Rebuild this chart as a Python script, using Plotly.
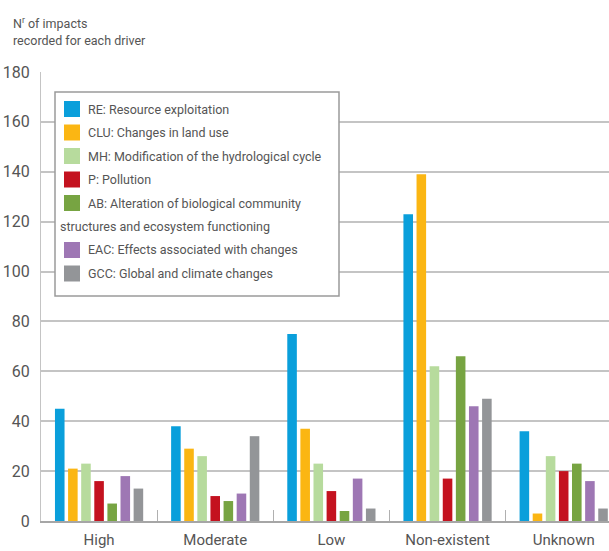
import plotly.graph_objects as go

categories = ["High", "Moderate", "Low", "Non-existent", "Unknown"]
drivers = ["RE: Resource exploitation",
           "CLU: Changes in land use",
           "MH: Modification of the hydrological cycle",
           "P: Pollution",
           "AB: Alteration of biological community<br>structures and ecosystem functioning",
           "EAC: Effects associated with changes",
           "GCC: Global and climate changes"]
colors = ["#0a9fdb", "#fbb613", "#b7db9d", "#c4121f", "#77a442", "#9e77b4", "#939598"]

RE = [45, 38, 75, 123, 36]
CLU = [21, 29, 37, 139, 3]
MH = [23, 26, 23, 62, 26]
P = [16, 10, 12, 17, 20]
AB = [7, 8, 4, 66, 23]
EAC = [18, 11, 17, 46, 16]
GCC = [13, 34, 5, 49, 5]
series = [RE, CLU, MH, P, AB, EAC, GCC]

y_ticks = [0, 20, 40, 60, 80, 100, 120, 140, 160, 180]

W, H = 609, 551
L, R, T, B = 41, 0, 72, 30
FONT = "Roboto, 'Liberation Sans', sans-serif"
TXT = "#555555"

def px(x):
    return (x - L) / (W - L - R)

def py(y):
    return (H - B - y) / (H - T - B)

fig = go.Figure()
for name, vals, col in zip(drivers, series, colors):
    fig.add_trace(go.Bar(x=categories, y=vals, name=name.replace("<br>", " "),
                         marker=dict(color=col, line=dict(width=0)),
                         showlegend=False))

# custom legend
shapes = [dict(type="rect", xref="paper", yref="paper",
               x0=px(55), x1=px(339), y0=py(296), y1=py(92),
               line=dict(color="#9a9a9a", width=1.5), fillcolor="white", layer="above")]
annotations = []
row_y = 109
for name, col in zip(drivers, colors):
    parts = name.split("<br>")
    shapes.append(dict(type="rect", xref="paper", yref="paper",
                       x0=px(64), x1=px(80), y0=py(row_y + 8), y1=py(row_y - 8),
                       line=dict(width=0), fillcolor=col, layer="above"))
    annotations.append(dict(text=parts[0], xref="paper", yref="paper",
                            x=px(86), y=py(row_y), xanchor="left", yanchor="middle",
                            showarrow=False, font=dict(size=12.5, color=TXT, family=FONT)))
    row_y += 23.5
    for extra in parts[1:]:
        annotations.append(dict(text=extra, xref="paper", yref="paper",
                                x=px(58), y=py(row_y), xanchor="left", yanchor="middle",
                                showarrow=False, font=dict(size=12.5, color=TXT, family=FONT)))
        row_y += 23.5

annotations.append(dict(text="N<sup>r</sup> of impacts<br>recorded for each driver",
                        xref="paper", yref="paper", x=px(11), y=py(13),
                        xanchor="left", yanchor="top", align="left", showarrow=False,
                        font=dict(size=12.5, color=TXT, family=FONT)))

fig.update_layout(
    width=W, height=H,
    margin=dict(l=L, r=R, t=T, b=B, pad=0),
    paper_bgcolor="white", plot_bgcolor="white",
    barmode="group", bargap=0.21, bargroupgap=0.27,
    font=dict(family=FONT, color=TXT, size=16),
    shapes=shapes, annotations=annotations,
    xaxis=dict(range=[-0.5, 4.39], showgrid=False, showline=True,
               linecolor="#a6a6a6", linewidth=2,
               ticks="inside", tickson="boundaries", ticklen=11,
               tickcolor="#b0b0b0", tickwidth=1, ticklabelstandoff=4,
               tickfont=dict(size=15, color=TXT, family=FONT)),
    yaxis=dict(range=[0, 180], tickvals=y_ticks, showgrid=True,
               gridcolor="#c4c4c4", gridwidth=1.5,
               showline=True, linecolor="#c4c4c4", linewidth=1,
               zeroline=False, ticks="", ticklabelstandoff=7,
               tickfont=dict(size=16, color=TXT, family=FONT)),
)

fig.write_html("out.html", config={"displayModeBar": False},
               post_script="document.body.style.margin='0';")
